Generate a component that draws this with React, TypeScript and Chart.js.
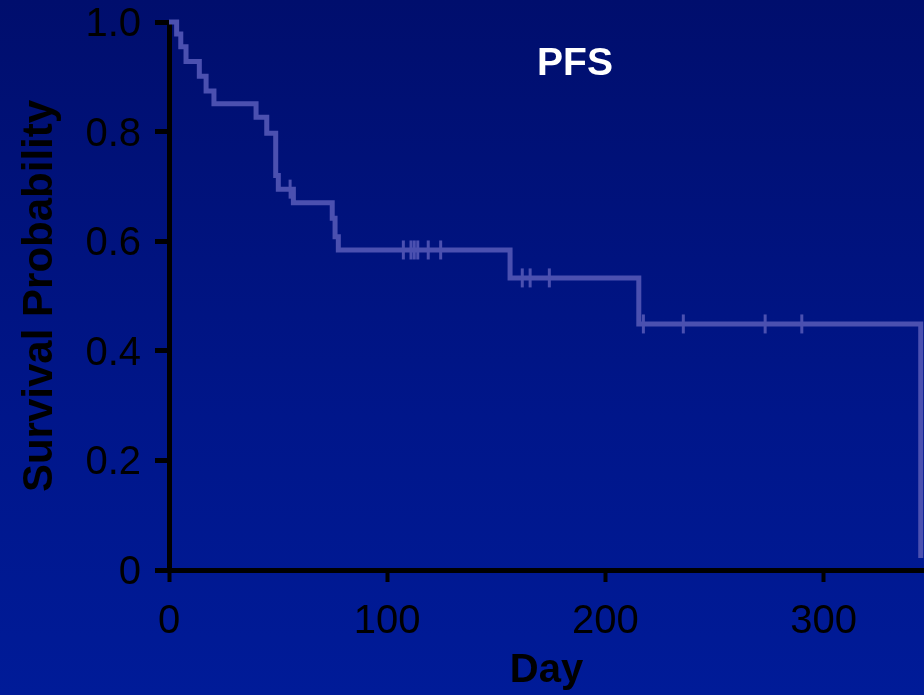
import React, { useEffect, useRef } from 'react';
import { Chart, registerables } from 'chart.js';

Chart.register(...registerables);

// Kaplan-Meier PFS curve: day of each step and survival after that step
const eventDays = [0, 3.5, 5.4, 7.8, 13.9, 17.0, 20.6, 39.9, 44.8, 48.9, 50.1, 57.0, 74.8, 76.1, 77.6, 156.3, 215.3, 344.5];
const survival = [1.0, 0.978, 0.955, 0.928, 0.901, 0.874, 0.851, 0.826, 0.797, 0.72, 0.695, 0.67, 0.642, 0.608, 0.584, 0.533, 0.449, 0.022];
// censored observations (days)
const censorDays = [55.5, 107.4, 110.9, 112.4, 114.0, 118.8, 124.5, 161.9, 165.5, 174.3, 217.4, 235.7, 273.2, 290.0];

const xTicks = [0, 100, 200, 300];
const xTickLabels = ['0', '100', '200', '300'];
const yTicks = [0, 0.2, 0.4, 0.6, 0.8, 1.0];
const yTickLabels = ['0', '0.2', '0.4', '0.6', '0.8', '1.0'];

const chartTitle = 'PFS';
const xTitle = 'Day';
const yTitle = 'Survival Probability';

const FONT = '"Liberation Sans", Arial, Helvetica, sans-serif';
const LINE_COLOR = '#4B50B0';

function survivalAt(t: number): number {
  let s = survival[0];
  for (let i = 0; i < eventDays.length; i++) {
    if (eventDays[i] <= t) s = survival[i];
  }
  return s;
}

const titlePlugin = {
  id: 'pfsTitle',
  afterDraw(chart: any) {
    const ctx = chart.ctx;
    ctx.save();
    ctx.font = `bold 39px ${FONT}`;
    ctx.fillStyle = '#FFFFFF';
    ctx.textAlign = 'center';
    ctx.textBaseline = 'middle';
    ctx.fillText(chartTitle, 575, 64);
    ctx.restore();
  },
};

export default function App() {
  const ref = useRef<HTMLCanvasElement | null>(null);

  useEffect(() => {
    if (!ref.current) return;
    const curve = eventDays.map((d, i) => ({ x: d, y: survival[i] }));
    const censors = censorDays.map((d) => ({ x: d, y: survivalAt(d) }));

    const chart = new Chart(ref.current, {
      type: 'line',
      data: {
        datasets: [
          {
            label: 'PFS',
            data: curve,
            borderColor: LINE_COLOR,
            borderWidth: 5,
            stepped: 'before',
            pointRadius: 0,
            fill: false,
            borderCapStyle: 'butt',
            borderJoinStyle: 'miter',
            clip: false,
          },
          {
            label: 'Censored',
            data: censors,
            showLine: false,
            pointStyle: 'line',
            rotation: 90,
            pointRadius: 9.5,
            pointBorderWidth: 3,
            pointBorderColor: LINE_COLOR,
            pointBackgroundColor: LINE_COLOR,
            borderColor: LINE_COLOR,
            clip: false,
          },
        ],
      },
      options: {
        responsive: false,
        animation: false,
        devicePixelRatio: 1,
        layout: { autoPadding: false, padding: { top: 22, left: 0, right: 0, bottom: 0 } },
        plugins: {
          legend: { display: false },
          tooltip: { enabled: false },
          title: { display: false },
        },
        scales: {
          x: {
            type: 'linear',
            min: 0,
            max: 346,
            afterBuildTicks: (scale: any) => {
              scale.ticks = xTicks.map((v) => ({ value: v }));
            },
            afterFit: (scale: any) => {
              scale.height = 125;
              scale.paddingLeft = 0;
              scale.paddingRight = 0;
            },
            border: { display: true, color: '#000000', width: 5 },
            grid: {
              drawOnChartArea: false,
              drawTicks: true,
              tickLength: 12,
              tickWidth: 4,
              tickColor: '#000000',
            },
            ticks: {
              color: '#000000',
              padding: 16,
              maxRotation: 0,
              autoSkip: false,
              font: { family: FONT, size: 40 },
              callback: (v: any) => {
                const i = xTicks.indexOf(Number(v));
                return i >= 0 ? xTickLabels[i] : '';
              },
            },
            title: {
              display: true,
              text: xTitle,
              color: '#000000',
              font: { family: FONT, size: 40, weight: 'bold' },
              padding: { top: 0, bottom: 0 },
            },
          },
          y: {
            type: 'linear',
            min: 0,
            max: 1,
            afterBuildTicks: (scale: any) => {
              scale.ticks = yTicks.map((v) => ({ value: v }));
            },
            afterFit: (scale: any) => {
              scale.width = 169;
              scale.paddingTop = 0;
              scale.paddingBottom = 0;
            },
            border: { display: true, color: '#000000', width: 5 },
            grid: {
              drawOnChartArea: false,
              drawTicks: true,
              tickLength: 14,
              tickWidth: 5,
              tickColor: '#000000',
            },
            ticks: {
              color: '#000000',
              padding: 14,
              labelOffset: 3,
              autoSkip: false,
              font: { family: FONT, size: 40 },
              callback: (v: any) => {
                const i = yTicks.findIndex((t) => Math.abs(t - Number(v)) < 1e-9);
                return i >= 0 ? yTickLabels[i] : '';
              },
            },
            title: {
              display: true,
              text: yTitle,
              color: '#000000',
              font: { family: FONT, size: 42, weight: 'bold' },
              padding: { top: 15, bottom: 0 },
            },
          },
        },
      } as any,
      plugins: [titlePlugin],
    });

    return () => chart.destroy();
  }, []);

  return (
    <div
      style={{
        position: 'fixed',
        left: 0,
        top: 0,
        width: 924,
        height: 695,
        background: 'linear-gradient(to bottom, #000E6D 0%, #00168A 60%, #001B98 100%)',
        overflow: 'hidden',
      }}
    >
      <canvas ref={ref} width={924} height={695} style={{ display: 'block', width: 924, height: 695 }} />
    </div>
  );
}
